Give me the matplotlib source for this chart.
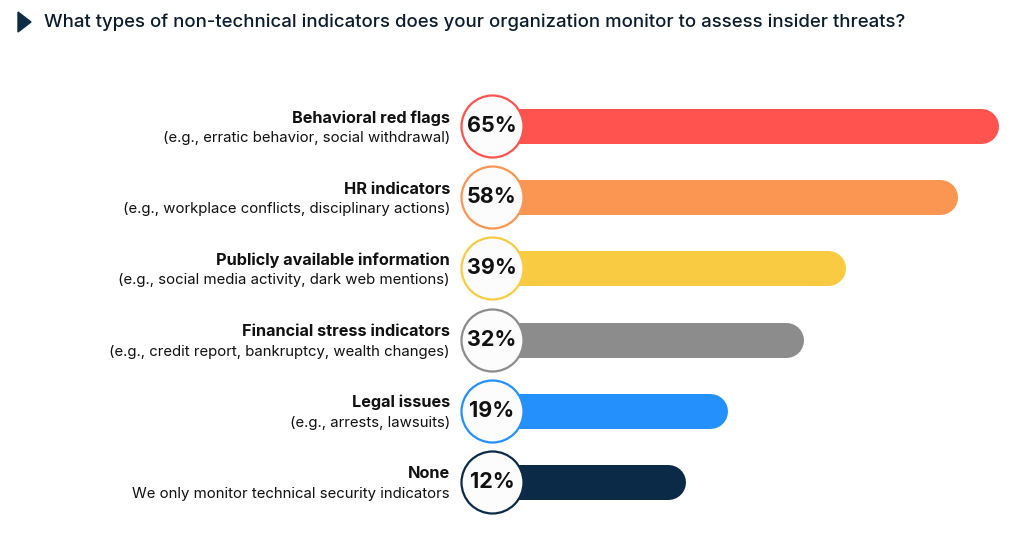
import matplotlib.pyplot as plt
from matplotlib.patches import Polygon

plt.rcParams['font.family'] = ['Inter', 'DejaVu Sans']

# Donnees
title = "What types of non-technical indicators does your organization monitor to assess insider threats?"
labels = ["Behavioral red flags", "HR indicators", "Publicly available information",
          "Financial stress indicators", "Legal issues", "None"]
details = ["(e.g., erratic behavior, social withdrawal)",
           "(e.g., workplace conflicts, disciplinary actions)",
           "(e.g., social media activity, dark web mentions)",
           "(e.g., credit report, bankruptcy, wealth changes)",
           "(e.g., arrests, lawsuits)",
           "We only monitor technical security indicators"]
values = [65, 58, 39, 32, 19, 12]
colors = ['#FF5350', '#FB9552', '#F8CB43', '#8C8C8C', '#2490FB', '#0A2A47']

W, H = 1020, 541
fig = plt.figure(figsize=(W / 100, H / 100), dpi=100)
ax = fig.add_axes([0, 0, 1, 1])

# echelles : pixel = x0 + k*valeur
k = 5.9
x0 = 597.5
row0, step = 126, 71.2
ax.set_xlim(-x0 / k, (W - x0) / k)
ax.set_ylim((H - row0) / step, -row0 / step)
ax.axis('off')

bar_start = (492 - x0) / k
lw_bar = 35 * 72 / 100
circle_s = (62 * 72 / 100) ** 2

for i, v in enumerate(values):
    ax.plot([bar_start, v], [i, i], color=colors[i], lw=lw_bar,
            solid_capstyle='round', zorder=2)
    ax.scatter([bar_start], [i], s=circle_s, color='#FCFCFC',
               edgecolors=colors[i], linewidths=1.6, zorder=3)
    ax.text(bar_start, i, f"{v}%", ha='center', va='center', fontsize=15.5,
            fontweight='bold', color='#111111', zorder=4)
    xl = (450 - x0) / k
    ax.annotate(labels[i], (xl, i), xytext=(0, 5.8), textcoords='offset points',
                ha='right', va='center', fontsize=11.7, fontweight='bold',
                color='#111111')
    ax.annotate(details[i], (xl, i), xytext=(0, -8.6), textcoords='offset points',
                ha='right', va='center', fontsize=10.75, color='#111111')

# titre
fig.text(44 / W, 1 - 22 / H, title, ha='left', va='center', fontsize=13.35,
         fontweight='medium', color='#0B1C2C')
tri = Polygon([[18 / W, 1 - 12 / H], [31 / W, 1 - 22 / H], [18 / W, 1 - 32 / H]],
              closed=True, transform=fig.transFigure, color='#0D2B45')
fig.add_artist(tri)

fig.savefig('out.png', dpi=100)
